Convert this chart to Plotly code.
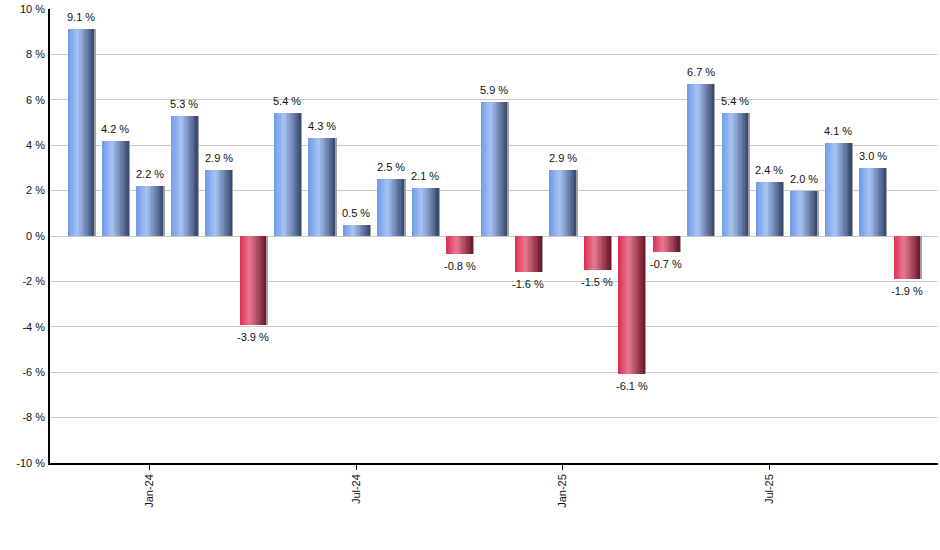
import plotly.graph_objects as go

months = ["Nov-23", "Dec-23", "Jan-24", "Feb-24", "Mar-24", "Apr-24", "May-24", "Jun-24",
          "Jul-24", "Aug-24", "Sep-24", "Oct-24", "Nov-24", "Dec-24", "Jan-25", "Feb-25",
          "Mar-25", "Apr-25", "May-25", "Jun-25", "Jul-25", "Aug-25", "Sep-25", "Oct-25",
          "Nov-25"]
returns = [9.1, 4.2, 2.2, 5.3, 2.9, -3.9, 5.4, 4.3, 0.5, 2.5, 2.1, -0.8, 5.9, -1.6,
           2.9, -1.5, -6.1, -0.7, 6.7, 5.4, 2.4, 2.0, 4.1, 3.0, -1.9]
tick_labels = ["Jan-24", "Jul-24", "Jan-25", "Jul-25"]
y_ticks = [-10, -8, -6, -4, -2, 0, 2, 4, 6, 8, 10]

idx = list(range(len(months)))
tick_idx = [months.index(t) for t in tick_labels]
y_ticktext = ["%d %%" % v for v in y_ticks]  # plain hyphen, not unicode minus

# horizontal "cylinder" shading, faked with overlapping strips
BLUE = [(0.0, (110, 152, 232)), (0.38, (168, 196, 244)), (1.0, (52, 70, 108))]
RED = [(0.0, (220, 45, 82)), (0.38, (232, 122, 144)), (1.0, (106, 22, 40))]


def shade(stops, t):
    for (p0, c0), (p1, c1) in zip(stops, stops[1:]):
        if t <= p1:
            f = (t - p0) / (p1 - p0)
            c = [round(a + (b - a) * f) for a, b in zip(c0, c1)]
            return "rgb(%d,%d,%d)" % tuple(c)
    return "rgb(%d,%d,%d)" % stops[-1][1]


fig = go.Figure()

bar_w = 0.78
n_strips = 16
sw = bar_w / n_strips

# soft shadow on the right edge
fig.add_trace(go.Bar(x=idx, y=returns, width=0.05, offset=bar_w / 2 - 0.01,
                     marker=dict(color="#a0a0a0", line_width=0), hoverinfo="skip"))

for k in range(n_strips):
    t = (k + 0.5) / n_strips
    colors = [shade(BLUE if v >= 0 else RED, t) for v in returns]
    fig.add_trace(go.Bar(x=idx, y=returns, width=bar_w - k * sw, offset=-bar_w / 2 + k * sw,
                         marker=dict(color=colors, line_width=0), hoverinfo="skip"))

for i, v in zip(idx, returns):
    fig.add_annotation(x=i, y=v, text="%.1f %%" % v, showarrow=False,
                       yanchor="bottom" if v >= 0 else "top",
                       yshift=4 if v >= 0 else -4,
                       font=dict(family="Liberation Sans", size=11, color="#111111"))

fig.update_layout(
    width=940, height=550,
    margin=dict(l=50, r=2, t=9, b=87),
    barmode="overlay", bargap=0,
    showlegend=False,
    plot_bgcolor="white", paper_bgcolor="white",
    font=dict(family="Liberation Sans", size=11, color="#111111"),
)
fig.update_xaxes(range=[-0.9, 24.9], tickvals=tick_idx, ticktext=tick_labels,
                 tickangle=-90, ticks="outside", ticklen=5, tickcolor="black",
                 showline=True, linecolor="black", linewidth=1.5,
                 showgrid=False, zeroline=False, automargin=False)
fig.update_yaxes(range=[-10, 10], tickvals=y_ticks, ticktext=y_ticktext,
                 showline=True, linecolor="black", linewidth=1.5,
                 gridcolor="#c8c8c8", zeroline=False, ticks="", ticklabelstandoff=1,
                 automargin=False)

# drop the browser's default 8px body margin so the figure fills the window
fig.write_html("out.html", config={"displayModeBar": False},
               post_script="document.body.style.margin='0px';")
